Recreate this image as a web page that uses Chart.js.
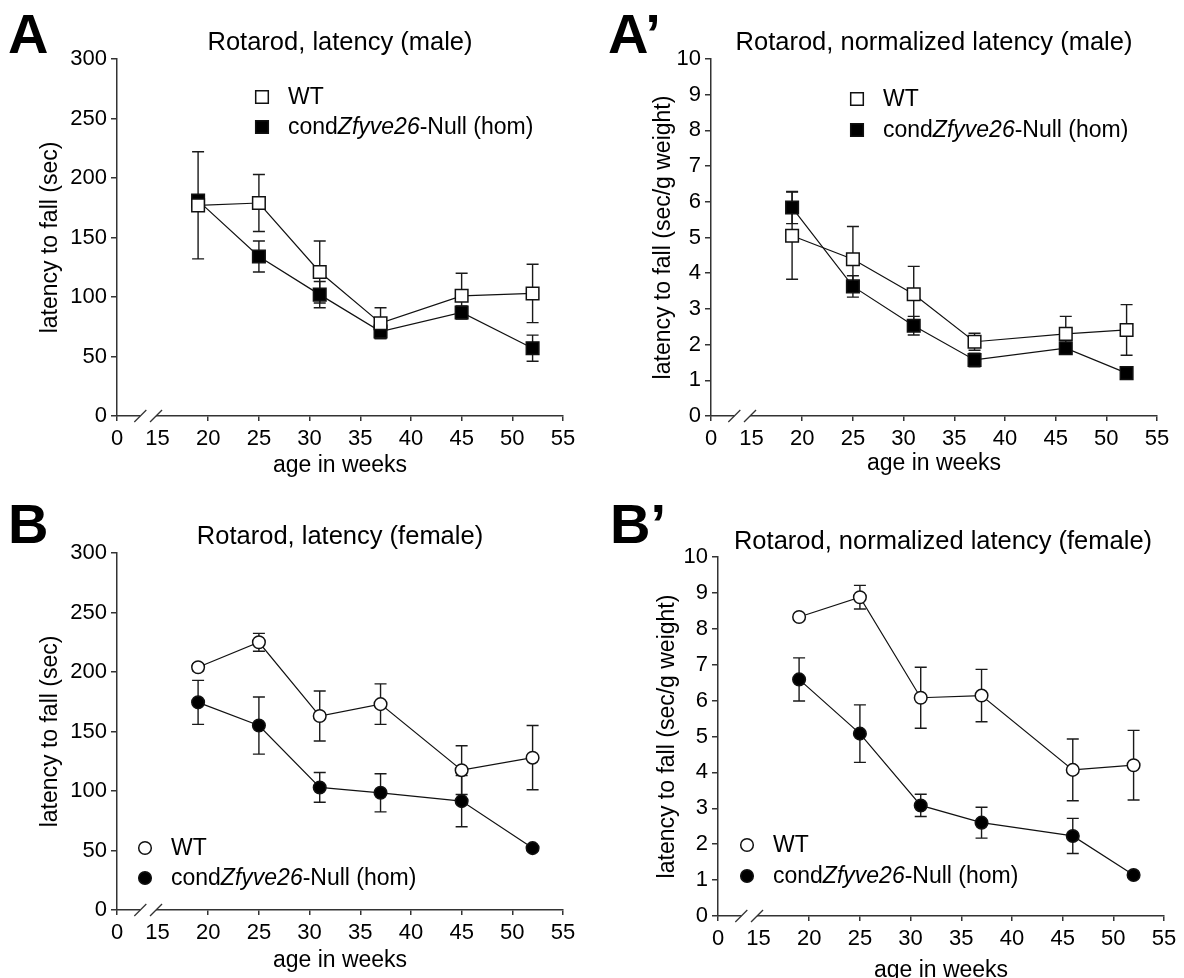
<!DOCTYPE html>
<html>
<head>
<meta charset="utf-8">
<title>Rotarod latency</title>
<script src="https://cdn.jsdelivr.net/npm/chart.js@4.4.1/dist/chart.umd.min.js"></script>
<style>
  html, body { margin: 0; padding: 0; background: #fff; }
  #wrap { position: relative; width: 1184px; height: 978px; overflow: hidden; }
  canvas { position: absolute; }
</style>
</head>
<body>
<div id="wrap">
  <canvas id="pA"  width="592" height="489" style="left:0;top:0"></canvas>
  <canvas id="pA2" width="592" height="489" style="left:592px;top:0"></canvas>
  <canvas id="pB"  width="592" height="489" style="left:0;top:489px"></canvas>
  <canvas id="pB2" width="592" height="489" style="left:592px;top:489px"></canvas>
</div>
<script>
// ---- DATA ----
const weeks     = [19, 25, 31, 37, 45, 52];
const weeksNorm = [19, 25, 31, 37, 46, 52];

const xTicks      = [0, 15, 20, 25, 30, 35, 40, 45, 50, 55];
const yTicksSec   = [0, 50, 100, 150, 200, 250, 300];
const yTicksNorm  = [0, 1, 2, 3, 4, 5, 6, 7, 8, 9, 10];

// male, latency (sec)
const maleWT      = [177, 179, 121, 78, 101, 103];
const maleWTSem   = [45, 24, 26, 13, 19, 24.5];
const maleKO      = [181, 134, 102, 71, 87, 57];
const maleKOSem   = [3, 13, 11, 6, 5.5, 11];

// male, normalized latency (sec/g weight)
const maleNormWT    = [5.05, 4.39, 3.41, 2.08, 2.30, 2.41];
const maleNormWTSem = [1.22, 0.92, 0.78, 0.24, 0.49, 0.71];
const maleNormKO    = [5.84, 3.63, 2.53, 1.57, 1.90, 1.20];
const maleNormKOSem = [0.45, 0.30, 0.26, 0.19, 0.08, 0.12];

// female, latency (sec)
const femaleWT    = [204, 225, 163, 173, 117.5, 128];
const femaleWTSem = [3, 7.5, 21, 17, 20.5, 27];
const femaleKO    = [174.5, 155, 103, 98.5, 91.5, 52];
const femaleKOSem = [18.5, 24, 12.5, 16, 21.5, 2];

// female, normalized latency (sec/g weight)
const femaleNormWT    = [8.33, 8.88, 6.08, 6.14, 4.07, 4.20];
const femaleNormWTSem = [0.08, 0.33, 0.85, 0.73, 0.86, 0.97];
const femaleNormKO    = [6.59, 5.08, 3.08, 2.60, 2.23, 1.14];
const femaleNormKOSem = [0.6, 0.8, 0.31, 0.43, 0.49, 0.05];

// legend text: [text, italic?]
const wtName = [['WT', false]];
const koName = [['cond', false], ['Zfyve26', true], ['-Null (hom)', false]];

// ---- STYLE ----
const FONT = "'Liberation Sans', Arial, Helvetica, sans-serif";
const FS_TICK = 22, FS_AXIS = 23, FS_LEG = 23, FS_TITLE = 25.5;
const AXIS = '#333';
const X_ZERO = 11;   // axis is broken: "0" sits where 11 would be
Chart.defaults.font.family = FONT;
Chart.defaults.font.size = FS_TICK;
Chart.defaults.color = '#000';

const pts = (xs, ys) => xs.map((x, i) => ({ x: x, y: ys[i] }));

// error bars (mean +/- sem) drawn under the markers
const errorBars = {
  id: 'errorBars',
  beforeDatasetsDraw(chart) {
    const { ctx, scales: { x, y } } = chart;
    ctx.save();
    ctx.strokeStyle = '#1a1a1a';
    ctx.lineWidth = 1.4;
    chart.data.datasets.forEach(ds => {
      ds.data.forEach((p, i) => {
        const e = ds.sem[i];
        const px = x.getPixelForValue(p.x);
        const t = y.getPixelForValue(p.y + e), b = y.getPixelForValue(p.y - e);
        ctx.beginPath();
        ctx.moveTo(px, t); ctx.lineTo(px, b);
        ctx.moveTo(px - 6, t); ctx.lineTo(px + 6, t);
        ctx.moveTo(px - 6, b); ctx.lineTo(px + 6, b);
        ctx.stroke();
      });
    });
    ctx.restore();
  }
};

function marker(ctx, shape, filled, cx, cy) {
  ctx.beginPath();
  if (shape === 'rect') ctx.rect(cx - 6.3, cy - 6.3, 12.6, 12.6);
  else ctx.arc(cx, cy, 6.3, 0, Math.PI * 2);
  ctx.fillStyle = filled ? '#000' : '#fff';
  ctx.fill();
  ctx.lineWidth = 1.5;
  ctx.strokeStyle = '#111';
  ctx.stroke();
}

// axis break, panel letter, title, legend
const decor = {
  id: 'decor',
  afterDraw(chart, args, o) {
    const ctx = chart.ctx, x = chart.scales.x;
    ctx.save();
    const ay = x.top;
    const b1 = x.getPixelForValue(13.3), b2 = x.getPixelForValue(14.85);
    ctx.fillStyle = '#fff';
    ctx.fillRect(b1, ay - 2, b2 - b1, 4);
    ctx.strokeStyle = AXIS;
    ctx.lineWidth = 1.3;
    [b1, b2].forEach(bx => {
      ctx.beginPath(); ctx.moveTo(bx - 6, ay + 6); ctx.lineTo(bx + 6, ay - 6); ctx.stroke();
    });

    ctx.fillStyle = '#000';
    ctx.font = 'bold 56px ' + FONT;
    ctx.textAlign = 'left'; ctx.textBaseline = 'alphabetic';
    ctx.fillText(o.letter, o.letterX, o.letterY);

    ctx.font = FS_TITLE + 'px ' + FONT;
    ctx.textAlign = 'center'; ctx.textBaseline = 'middle';
    ctx.fillText(o.title, o.titleX, o.titleY);

    const rows = [[wtName, false, o.legY1], [koName, true, o.legY2]];
    rows.forEach(([parts, filled, ly]) => {
      marker(ctx, o.shape, filled, o.legX, ly);
      let tx = o.legTextX;
      ctx.textAlign = 'left';
      ctx.fillStyle = '#000';
      parts.forEach(([txt, it]) => {
        ctx.font = (it ? 'italic ' : '') + FS_LEG + 'px ' + FONT;
        ctx.fillText(txt, tx, ly + 1);
        tx += ctx.measureText(txt).width;
      });
    });
    ctx.restore();
  }
};

function panel(id, o) {
  const H = 489, W = 592;
  const a = o.area;
  const sets = [
    { data: pts(o.weeks, o.wt), sem: o.wtSem, pointBackgroundColor: '#fff' },
    { data: pts(o.weeks, o.ko), sem: o.koSem, pointBackgroundColor: '#000' }
  ].map(d => Object.assign(d, {
    borderColor: '#111', borderWidth: 1.2,
    pointStyle: o.shape, pointRadius: o.shape === 'rect' ? 8.9 : 6.3,
    pointBorderColor: '#111', pointBorderWidth: 1.5, tension: 0
  }));
  return new Chart(document.getElementById(id), {
    type: 'line',
    data: { datasets: sets },
    options: {
      responsive: false,
      animation: false,
      events: [],
      layout: { padding: { left: 0, top: a.top, right: W - a.right, bottom: 0 } },
      scales: {
        x: {
          type: 'linear', min: X_ZERO, max: 55,
          afterBuildTicks: s => { s.ticks = xTicks.map(t => ({ value: t === 0 ? X_ZERO : t })); },
          afterFit: s => { s.height = H - a.bottom; s.paddingLeft = 0; s.paddingRight = 0; },
          ticks: { autoSkip: false, maxRotation: 0, padding: 5, color: '#000',
                   callback: (v, i) => String(xTicks[i]) },
          grid: { drawOnChartArea: false, tickLength: 5, lineWidth: 1.5,
                  color: AXIS, tickColor: c => (c.tick && c.tick.value === 15) ? 'rgba(0,0,0,0)' : AXIS },
          border: { color: AXIS, width: 1.5 },
          title: { display: true, text: 'age in weeks', color: '#000', font: { size: FS_AXIS },
                   padding: { top: 0, bottom: o.xTitlePad } }
        },
        y: {
          min: 0, max: o.yTicks[o.yTicks.length - 1],
          afterBuildTicks: s => { s.ticks = o.yTicks.map(t => ({ value: t })); },
          afterFit: s => { s.width = a.left; s.paddingTop = 0; s.paddingBottom = 0; },
          ticks: { padding: 4, color: '#000' },
          grid: { drawOnChartArea: false, tickLength: 6, lineWidth: 1.5, color: AXIS },
          border: { color: AXIS, width: 1.5 },
          title: { display: true, text: o.yTitle, color: '#000', font: { size: FS_AXIS },
                   padding: { top: o.yTitlePad, bottom: 0 } }
        }
      },
      plugins: {
        legend: { display: false },
        tooltip: { enabled: false },
        decor: o.decor
      }
    },
    plugins: [errorBars, decor]
  });
}

panel('pA', {
  weeks: weeks, wt: maleWT, wtSem: maleWTSem, ko: maleKO, koSem: maleKOSem,
  shape: 'rect', yTicks: yTicksSec, yTitle: 'latency to fall (sec)',
  area: { left: 117, right: 563, top: 59, bottom: 416 },
  yTitlePad: 37, xTitlePad: 9.5,
  decor: { letter: 'A', letterX: 8, letterY: 53, title: 'Rotarod, latency (male)', titleX: 340, titleY: 43,
           shape: 'rect', legX: 262, legY1: 97, legY2: 127, legTextX: 288 }
});

panel('pA2', {
  weeks: weeksNorm, wt: maleNormWT, wtSem: maleNormWTSem, ko: maleNormKO, koSem: maleNormKOSem,
  shape: 'rect', yTicks: yTicksNorm, yTitle: 'latency to fall (sec/g weight)',
  area: { left: 119, right: 565, top: 59, bottom: 416 },
  yTitlePad: 58, xTitlePad: 11.5,
  decor: { letter: 'A\u2019', letterX: 16, letterY: 53, title: 'Rotarod, normalized latency (male)', titleX: 342, titleY: 43,
           shape: 'rect', legX: 265, legY1: 99, legY2: 130, legTextX: 291 }
});

panel('pB', {
  weeks: weeks, wt: femaleWT, wtSem: femaleWTSem, ko: femaleKO, koSem: femaleKOSem,
  shape: 'circle', yTicks: yTicksSec, yTitle: 'latency to fall (sec)',
  area: { left: 117, right: 563, top: 64, bottom: 421 },
  yTitlePad: 37, xTitlePad: 3.5,
  decor: { letter: 'B', letterX: 8, letterY: 54, title: 'Rotarod, latency (female)', titleX: 340, titleY: 48,
           shape: 'circle', legX: 145, legY1: 359, legY2: 389, legTextX: 171 }
});

panel('pB2', {
  weeks: weeksNorm, wt: femaleNormWT, wtSem: femaleNormWTSem, ko: femaleNormKO, koSem: femaleNormKOSem,
  shape: 'circle', yTicks: yTicksNorm, yTitle: 'latency to fall (sec/g weight)',
  area: { left: 126, right: 572, top: 68, bottom: 427 },
  yTitlePad: 62, xTitlePad: -6.5,
  decor: { letter: 'B\u2019', letterX: 18, letterY: 54, title: 'Rotarod, normalized latency (female)', titleX: 351, titleY: 53,
           shape: 'circle', legX: 155, legY1: 356, legY2: 387, legTextX: 181 }
});
</script>
</body>
</html>
